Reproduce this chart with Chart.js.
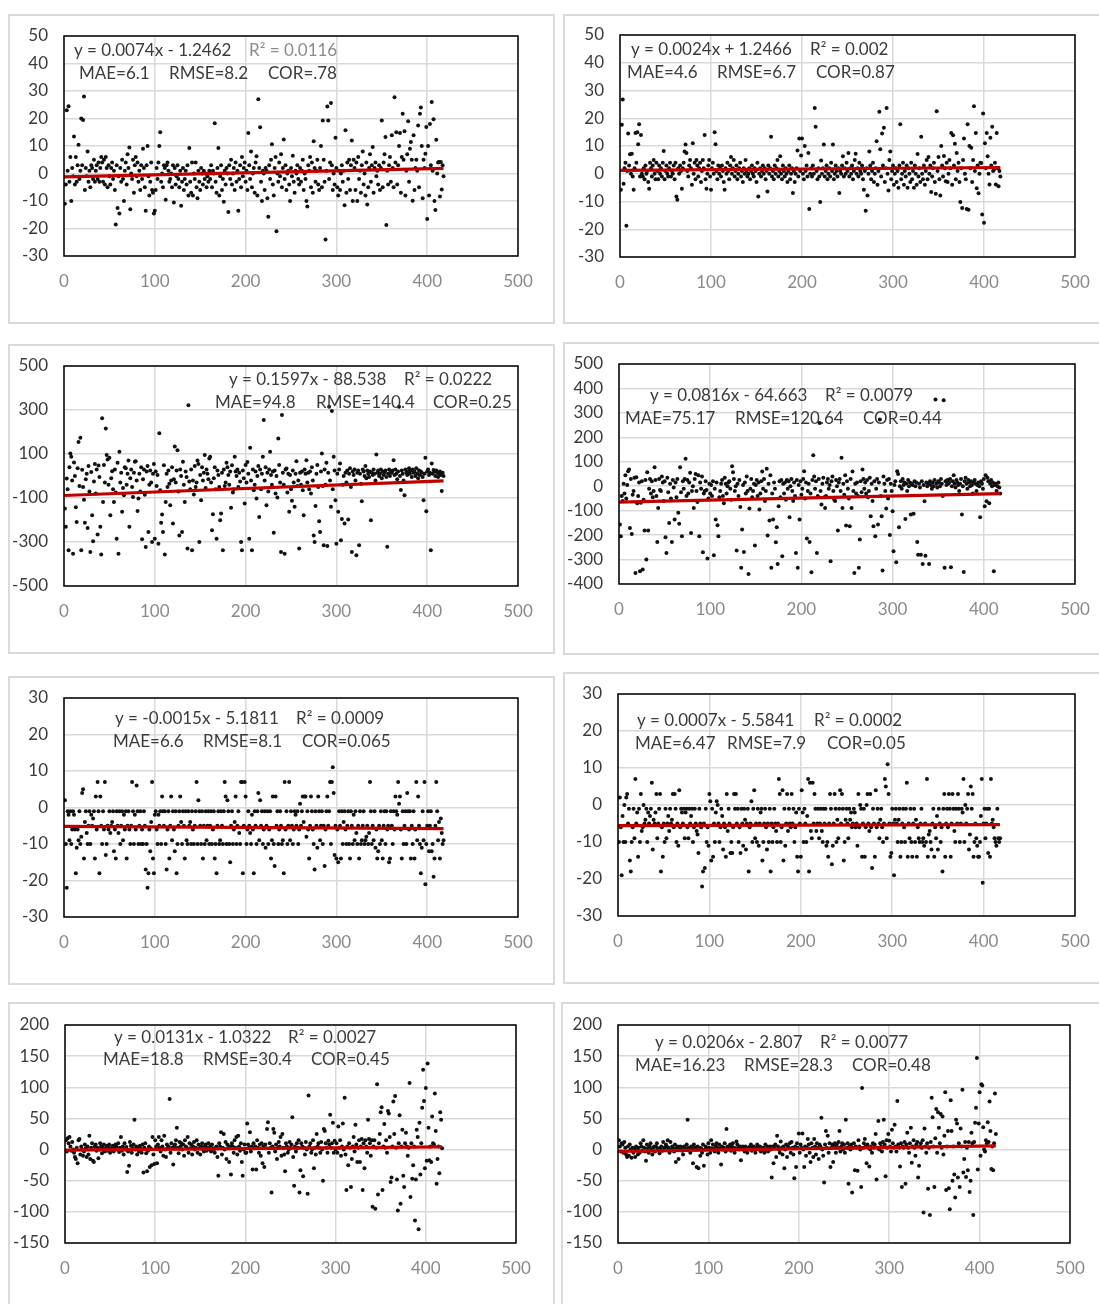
<!DOCTYPE html>
<html>
<head>
<meta charset="utf-8">
<script src="https://cdn.jsdelivr.net/npm/chart.js@4.4.1/dist/chart.umd.min.js"></script>
<style>
	body { margin: 0; background: #fff; width: 1099px; height: 1304px; overflow: hidden; position: relative; }
	.panel { position: absolute; border: 2px solid #dadada; box-sizing: border-box; }
	canvas { position: absolute; }
</style>
</head>
<body>
<script>
// residuals per day index, one array per panel
const p1Values = [
	-11, -4, 23, 1, 24.5, -3, 6, -10, 2, -1, 13.5, -4, 6, -3, 3, 10.5, -2, 1, 20, 3,
	19.5, 28, -6, 2, -1, 8, -3, 1, -5, 3, 2, -2, 5, -3, 1, 3, -2, 4, -3, 2,
	6, 4, -3, 5, -4, 6, 2, -5, 3, -1, -4, 2, 4, -2, 1, -6, -18.5, 3, -12.5, -1,
	-14.5, 2, -3, 5, -2, -10, 1, 4, -4, 7, 2, 9.5, -13, 0, -2, 5, -7, 3, 6, -1,
	4, -3, 1, -6, 3, -2, 9, 2, -5, -13.5, 3, 10, -1, -8, -3, 4, -6, -7, -14.5, -13.5,
	-6, 2, -2, 4, 10, 15, -3, 0, -5, 3, 2, -9.5, 3, 4, 1, -3, -2, 0, -5, 3,
	-10.5, 2, -4, -1, 3, -2, -5, 1, -11.7, -3, 2, -6, -2, 1, -4, 3, -8, 9.3, -3, -7,
	4, -8, 0, -2, 4, -5, -9, 1, -3, -6, 2, 0, -4, 1, -2, 0, -5, -1, -3, 1,
	-2, 3, -5, 1, 0, 18.3, -3, -7, 2, 9.3, -8, -1, 3, -6, -2, -10.3, 1, -4, 2, 0,
	-14, 3, -2, 5, -4, 0, 2, -6, 4, -3, 1, -13.5, -2, 3, -5, 6, -1, 2, 4, -3,
	1, -6, 14.7, 3, -2, 8, -5, 0, 2, -7, 4, 6.3, -8, 27, 2, 16.8, -3, -10, 1, 0,
	-6, 2, 1, -9, -15.7, 3, -2, 5, 10.6, -4, -8, 2, 6, -21, 0, -3, 4, -1, 7, -5,
	2, 12.4, -2, 3, -6, 0, 1, -4, -10, 2, -1, 6.5, -3, -7, 1, 0, 3, -2, -4, 2,
	-3, 1, 5, -6, 0, -2, -10, -12, 3, 1, 6, -5, 4, -7, 11.7, 2, -3, 1, 5, -4,
	-6, 2, 10, -5, 19.3, 5, -3, -24, 1, 24.4, 19.3, -2, 4, 25.6, 3, -6, 0, -4, 13, 2,
	-5, -8, 1, -6, 0, 3, -3, 1, -11.5, 15.7, -7, 4, -2, 5, -6, 3, 12, -10, 5, 2,
	-6, 4, -10, 6, -2, 1, -7, 3, 8, -4, 0, -8, 4, -11.3, -5, 2, 7, -3, 3, 9.6,
	-7, 2, 4, -1, 1, -4, 3, -6, 2, 19.3, -5, 4, 7, 13.3, -18.7, 1, -4, 3, 6, -3,
	13.9, 2, -5, 27.7, 4, 15, -4, 3, 10, 14.7, -7, 6, 21.7, 5, 15.4, -8, 1, 7, 19, -3,
	9, 11.5, 5, -9.9, 13.9, -6, 2, 5, 1, 17.5, -5, 21.7, 24, 10, -9, 5, 2, 7.2, 16.9, -16.5,
	10, -8, 18, 3, 26, 1, 19.7, -10, -13.3, 12.3, 0, 4, 4.2, -8.4, 4.2, -5.8, 3, -1
];
const p2Values = [
	-5.8, 17.7, 26.8, -3.6, 2, 4, -18.7, 1, 14.5, 3, 7, 0, 7.2, -1, -5.8, 2, 14.7, 4, 15, 10.6,
	17.8, -1, 14, 0, -1, 2, -2, 3, 0, 1, -3, -5.4, 4, 2, -1, 3, 5, 0, -2, 4,
	1, -2, 3, 0, 2, -1, 4, 8.2, -2, 1, 3, 0, -1, 2, 4, -1, 1, 0, 3, -2,
	4, -8.2, -9.4, 2, 0, 3, 1, -5.4, 2, 4, 8, 10.5, 7.5, 1, -1, 3, 5, 2, -4, 11,
	0, 4, -2, 5, 3, -1, 2, 4, -3, 1, 5, 2, 14, -2, -5.4, 0, 3, 5, -1, -5.8,
	2, 4, 0, 15, 10.6, 1, -2, 3, 0, 2, -1, 3, 1, -3, -5.8, 2, 0, 4, 1, -2,
	3, 6, 0, 2, 5, -1, 1, 3, -2, 0, 2, 4, -1, 1, -3, 2, 0, 5, 1, -1,
	0, 2, -2, 1, 3, 0, -1, 2, 1, -3, 4, -8.2, 0, 2, -1, 1, 3, 0, 2, -2,
	1, -6.4, 3, 0, 2, 13.3, -1, 1, -2, 3, 0, 2, 5, -1, 1, 6.3, 0, -2, 3, 1,
	-1, 2, 0, -3, 1, 3, -2, 0, 2, -6.9, 1, -3, 0, 2, 8.4, -1, 12.7, 1, 6.6, 12.7,
	0, -2, 10, 1, 3, -1, 7.5, -12.7, 0, 2, -1, 3, 0, 23.7, 16.9, 1, -2, 2, -1, -10.2,
	4.8, 0, 2, 10.5, -1, 1, 3, -2, 0, 2, -1, 4, 1, 10.5, -2, 0, 3, 1, -1, 2,
	-6.9, 1, 0, 3, 6.3, -1, 2, 0, 4, 1, 7.5, -1, 2, 0, 3, -2, 1, 5, 7.2, 0,
	2, -1, 4, 1, 0, 3, -2, -5.8, 1, -13.3, 2, -7.8, 0, 8, 3, -2, 1, 4, -3, 0,
	2, 11.7, -4, 1, 22.3, 8.8, -1, 14.5, 3, 16.6, -3, 2, 23.7, 0, -6, 5, 8, -2, 1, 3,
	-4, 0, 2, -3, 1, -5, 3, 17.8, -2, 0, 4, -4, 1, -1, 3, -5, 2, 0, -3, 4,
	-2, 1, -5, 3, 0, -4, 7.1, -1, 2, -3, 13.3, 0, -2, 3, -4, 1, 5, -2, 6, 0,
	3, -6.6, -1, 2, 4, -3, -7.2, 22.5, 1, 6, -2, -7.8, 10, 3, -1, 6.4, 2, -2.7, 4, -3,
	0, 5, 2, 14.7, -4, 13.9, 3, 10.8, -2, 7.5, 1, 4, -3, -10.2, 2, -12.3, 5, 12.7, 0, -2,
	-12.7, 17.8, -13, 10, 2, 9.4, -3, 5, 24.3, 1, 14.7, -5.2, 3, -7, 0, 4, 3.9, -14.7, 21.7, -17.7,
	11, 2, 14.7, 6.3, 0, -3.9, 13, 3, 16.9, 1, 1.4, 4, -3.9, 14.7, 2, -4.5, 1, -1
];
const p3Values = [
	-148, -231, -11, -60, -338, 40, 102, 87, -20, -353, 61, 0, -142, -209, 35, 155, -45, 174, -338, 28,
	-50, -108, -212, -15, 10, -236, 45, -70, -345, 18, -178, -297, -25, 55, -80, 30, -266, 48, -5, -231,
	-357, 262, -118, 50, -30, 216, 95, 75, -40, 83, -178, -10, 22, -60, -118, 30, -75, -285, 60, -353,
	110, -30, 15, -163, -55, -87, 40, 35, -40, 10, 70, -231, -10, 30, -50, -95, 15, 65, 67, -20,
	-159, -102, 10, -70, 40, -288, -15, 30, -85, -323, 20, 45, -254, -40, 25, -30, -300, 10, 55, -285,
	20, -45, 5, -308, 194, -65, -212, -175, -254, 49, -357, -118, 10, -50, 25, -35, -133, -20, 40, -216,
	-15, 134, -30, 25, 117, -70, -270, 30, 0, -254, 65, -40, -118, 20, -5, -330, 322, -25, -60, 30,
	-338, -20, -84, 45, -50, -30, 70, 55, -300, 5, -110, 40, -20, 15, 95, -55, 30, 10, -15, 80,
	87, -30, -247, -174, -10, 40, -60, -285, 25, 5, -50, -201, -171, 15, -338, 30, -45, -30, 60, 40,
	5, -40, 20, -144, 49, -75, -60, 87, 20, 0, 30, -50, 15, -25, -300, -338, 25, -10, -125, 50,
	-30, 64, 10, -285, 128, -20, -338, 30, -65, -40, 20, -102, 0, 45, -186, 30, -60, 10, 87, 254,
	-20, 40, -133, 15, -70, 30, 110, 5, -40, 20, -258, 25, -80, 0, -98, 171, 50, -30, -345, 277,
	15, -40, -353, 30, 34, -75, 10, -163, 5, -60, -113, 25, -30, -140, 10, 67, -45, -20, -330, 15,
	-40, 20, -65, -178, 30, 10, 72, -30, 15, -60, 20, -80, 40, -20, -270, -300, -136, 10, 50, -50,
	-206, -254, 20, 102, -45, -315, 30, -40, 60, -318, 15, 315, -20, -140, 295, -60, 87, 25, -110, -308,
	10, -163, 30, 57, -292, -196, -40, 0, -216, 15, -30, 25, -198, 10, 35, -50, -345, 20, 5, 30,
	-20, -360, 15, 25, -315, 10, -35, -115, 30, 20, 0, 45, -10, 25, 10, -5, 20, -201, 15, 5,
	30, 10, -20, 98, 15, 25, 0, 10, 30, -10, 20, 5, 15, 25, -5, -322, 10, 30, 0, 20,
	15, 25, 72, 5, 30, 10, -15, 20, 315, 0, -64, 25, 10, -20, -87, 30, 15, 5, 20, 35,
	10, 25, -5, 30, 15, 20, 0, 35, 10, -10, 25, 5, 20, 15, -5, -110, 10, 83, -160, 20,
	30, 5, 15, -338, 57, 10, 27, 20, 0, 25, 15, -5, 10, 20, 5, -68, 15, 0
];
const p4Values = [
	-157, -205, -40, -60, 10, -30, 45, -50, 5, 61, 68, -171, 30, -195, -35, -20, 35, -355, 37, -70,
	-40, 15, -348, -68, 20, -341, -55, -181, 25, -300, 57, -181, -10, 30, -30, 20, -45, -20, 78, 25,
	-40, -228, -89, 30, -15, -20, 40, 15, -60, 20, -209, -273, 35, -25, -150, 10, -50, -228, 25, -5,
	-136, 15, -45, 30, -109, -154, 78, -25, -205, 20, -10, 30, 112, -40, 25, -30, 15, 55, -191, -20,
	0, -89, 30, 50, -20, -65, 45, -205, 15, -10, 40, -270, -30, -20, 20, -15, -296, -50, 10, -30,
	5, -40, 20, -282, -10, -136, 15, -160, -205, -45, -20, 10, 25, -40, -70, 35, 10, -30, 0, 15,
	20, -10, -55, 82, 57, 30, -20, 0, -263, 10, -40, 25, -85, -334, -177, 5, -269, 15, -30, 40,
	-20, -359, -91, -10, 30, -45, -20, 10, -243, 5, 25, -40, 15, -95, -30, 20, 60, -10, 30, -60,
	-20, 71, -202, 10, -140, 45, -334, -30, -136, 15, -10, -229, -168, -318, -82, 20, -45, 25, -286, 10,
	-30, 15, -55, 25, -10, 20, -127, 0, 30, -20, -60, 15, -40, -273, 25, -334, 5, -136, 20, -35,
	-10, 30, 61, -50, 15, -214, -20, 10, -228, -30, -352, 25, 127, 40, -10, 20, -273, -40, 30, 259,
	-20, -75, 10, 35, -45, -89, -40, 15, 30, -10, 5, -307, 20, 40, -20, -55, -60, 25, 0, -181,
	15, 30, -20, 116, -89, 10, -35, 45, -161, 20, -10, -50, -164, 30, -89, 60, -20, -355, 10, -30,
	15, -40, -334, -218, 20, -25, 68, 30, -10, 15, -30, 25, -45, -20, 35, -123, 10, -60, -164, 20,
	-205, -10, 30, -157, 15, 273, -40, -123, -345, 40, 10, -20, -91, 25, -50, 30, -200, 10, -20, -102,
	-266, 5, 20, -311, 61, 50, -168, 0, 20, -10, 30, 5, 15, -134, 10, -20, 25, 0, 15, -116,
	10, 5, -113, 20, 0, 15, -228, -280, 10, -5, -280, 20, -318, 5, -61, -284, 15, 0, 10, -318,
	20, 5, -10, 15, 0, 25, 355, 10, -5, 20, 15, 0, 30, 10, -40, 352, -334, 20, 5, 25,
	10, 15, 30, -331, 0, 20, 45, 10, -5, 25, 15, 5, -20, 10, 30, -116, 0, -351, 20, 35,
	10, -10, 25, 15, 0, 20, 5, -30, 15, 25, 10, -20, 5, 15, 0, -127, 20, 10, -10, 30,
	-82, 45, -61, 35, 20, -70, 10, 25, 0, 15, -348, 5, 10, -20, 0, 15, -5, -30
];
const p5Values = [
	2, -10, -22, -1, -2, -9, -1, -10, -6, -1, -2, -6, -18, -11, -6, -9, -1, -10, -8, 4,
	5, -14, -4, -1, -7, -10, -5, -1, -10, -2, -5, -3, -1, -14, 3, -6, 7, -1, -18, 3,
	-5, -10, -1, -6, 7, -13, -10, -5, -6, -1, -7, -5, -4, -1, -12, -6, -14, -1, -5, -7,
	-1, -10, -5, -1, -9, -2, -6, -1, -14, -5, -1, -6, -10, -5, 7, -1, -10, -2, -6, 6,
	-1, -10, -5, -1, -10, -6, -10, -1, -5, -17, -10, -22, -18, -6, -12, -4, 7, -14, -18, -2,
	-1, -6, -10, -2, -5, -1, -10, 3, -1, -5, -1, -10, -17, -6, -1, -14, -5, 3, -9, -1,
	-6, -12, -1, -18, -10, -5, -1, 3, -4, -10, -1, -5, -14, -1, -9, -10, -1, -5, -4, -10,
	-1, -6, -10, -5, -1, 7, -10, 2, -1, -5, -10, -1, -14, -5, -10, -1, -9, -5, -1, -10,
	-5, -1, -10, -6, -1, -14, -10, -18, -5, -1, -10, -9, -1, -5, -10, -1, 7, 3, -10, 2,
	-1, -10, -15, -5, -1, -10, -6, -4, 3, -10, -5, -1, -7, -10, 7, 7, -18, -5, 7, 3,
	-10, -6, -1, -5, -7, -10, -2, -6, -18, -1, -5, -10, -1, 4, -9, 2, -5, -1, -10, -6,
	-1, -11, -5, -1, -10, -6, -1, -14, -9, 3, -10, -16, 3, -5, -1, -10, -6, -1, -5, -10,
	-9, -18, 7, -6, -1, -10, -5, 7, -9, -1, -5, -10, -6, -1, -2, -5, -1, -10, -6, 1,
	-5, -1, 3, -4, 3, 3, -8, -1, -6, -14, -5, 3, -1, -6, -10, -17, -1, -5, -11, 3,
	-1, -9, -5, -1, -10, -5, -16, -6, -1, 3, -5, -1, 7, -10, 7, 11, 4, -13, -5, -14,
	-6, -15, -1, -5, -14, -1, -10, -4, -1, -6, -10, -5, -1, -10, -14, -1, -5, -10, -2, -9,
	-1, -7, -10, -5, -14, -1, -10, -9, -5, -1, -10, -9, -8, -5, -10, -7, 7, -1, -10, -5,
	-9, -1, -11, -6, -14, -12, -5, -10, -1, -9, -14, -5, -1, -10, -1, -6, -5, -15, -14, -1,
	-5, -10, -1, -6, 3, -1, -2, 7, 1, 3, -6, -14, -1, -10, -5, -1, -10, 4, -1, -6,
	-1, -14, -5, -10, -1, -14, -6, 7, -9, 3, -5, -10, -18, -11, -1, -9, 7, -21, -10, -5,
	-1, -12, -5, -1, -12, -10, -19, -14, -5, 7, -1, -9, -4, -14, -3, -7, -10, -9
];
const p6Values = [
	-10, 2, -6, -19, -3, -10, 0, -10, 2, 3, -5, -1, -15, -18, -10, -6, -1, -9, 7, -5,
	-2, -14, -1, -10, 3, -7, -6, 0, -5, -4, -1, -10, -2, -5, -3, -1, 6, -12, -4, -5,
	-2, 3, -9, -5, -1, 3, -18, -6, -14, -5, -10, -1, -9, -5, -3, -7, -1, -5, -4, 3,
	-6, 3, -1, -10, -5, -11, 4, -6, -1, -2, -5, -1, -9, -2, -1, -6, -9, -1, -5, -3,
	-1, -10, -6, -1, -5, -7, -8, -13, -1, -5, -6, -22, -18, -5, -17, -1, -10, -6, -11, 3,
	1, -15, -1, -14, -5, -10, -2, 1, 0, -5, -10, -6, -1, -3, -12, -5, -6, -14, 3, -7,
	-1, -5, -13, -10, -13, -6, 3, -1, 3, -5, -1, -10, -6, -13, -1, -5, -11, -1, -4, -12,
	-5, -1, -18, -6, -5, 1, -10, -1, 4, -9, -5, -10, -1, -11, -5, -2, -1, -15, -10, -5,
	-1, -6, -12, -5, -10, -1, -18, -5, -10, -6, -1, -5, -7, -10, -5, 7, 3, -10, -6, 4,
	-15, -1, -11, -5, 3, -7, -1, -5, -6, 3, -5, -1, -10, -6, -2, -14, -18, -1, -5, -14,
	4, -2, -10, -1, -5, -10, -3, 7, -18, 6, -7, -9, 6, -5, 3, -1, -7, -5, -1, -9,
	-5, -1, -7, -10, -1, -5, -1, -11, -10, -14, -5, 3, -1, -16, -11, -5, 3, -1, -10, -4,
	-9, -1, 4, -5, 3, -1, -15, -10, -4, -1, -5, -9, -1, -4, -2, -6, -5, -1, -2, -6,
	-5, -11, 3, -6, 0, -1, -14, -5, -1, -14, -6, 0, 3, -5, -7, 3, -6, -17, -1, -5,
	-14, 4, -6, -1, -5, -9, -4, -1, -6, -10, -5, 7, 5, -9, 11, 3, -5, -14, -13, -1,
	-5, -19, -4, -1, -5, -10, -4, -1, -14, -10, -5, -1, -6, -10, -1, 6, -14, -5, -9, -1,
	-10, -14, -5, -1, -10, -4, -14, -6, -9, -10, -5, -1, -10, -9, -11, -5, -10, 7, -14, -8,
	-7, -10, -12, -5, -1, -14, -6, -9, -3, -12, -1, -5, -10, -6, -18, -1, 3, -14, -5, -1,
	-6, 3, -1, -14, -5, 3, -1, -7, -10, -1, -5, 3, -1, -10, -5, -1, -2, 7, -10, 0,
	-5, -1, 3, -12, -8, 5, -1, 3, -14, -10, -5, -9, -11, -14, -14, -10, -3, 7, -21, -5,
	-1, -9, -5, -1, -13, -1, -14, 7, -5, -4, -6, -9, -10, -11, -1, -9, -10, -9
];
const p7Values = [
	15, -3, 18, 10, 20, 5, -2, 12, 0, -5, -12, -15, 3, -22, 15, 17, -8, 5, 0, -10,
	-3, 8, 2, -12, 5, -8, 22, -15, 3, 10, -18, -20, 5, 8, -2, 3, -14, 0, 10, 5,
	-6, 3, 8, -3, 1, 6, -2, 4, 8, -5, 0, 3, 6, -3, 2, 8, 5, 0, 10, -4,
	3, 20, -2, 5, -8, 10, 0, 4, -36, -3, -26, 12, 6, -5, 2, 8, 48, 0, 5, -8,
	3, -3, 6, 2, -5, 8, -37, 3, 10, -6, -35, -2, 5, -28, 2, -25, 20, -8, -23, 15,
	5, -22, 8, 20, 3, -3, 15, 5, -10, 22, 0, -12, 8, 3, 5, 81, -5, 10, 3, -24,
	5, 8, 15, 35, 3, -6, 12, 5, 10, 0, 8, -10, 15, 5, 3, 20, -5, 10, 2, 8,
	-8, 5, 12, 0, 3, 15, -5, 8, 2, -8, 5, 10, 0, -3, 5, 8, -2, 3, 10, 0,
	5, -3, 8, 2, 0, -5, 3, 5, -12, -42, 10, 5, 28, -8, 3, 25, 0, 12, -15, 8,
	3, -20, 5, -40, 10, 5, -5, 15, 3, 20, -8, 22, 5, -2, 10, -20, -42, 0, 8, -5,
	-5, 42, 8, 3, 28, -3, 5, -32, 10, 2, 5, -32, 15, 3, -5, 8, -10, 10, -22, 5,
	-28, 8, 2, 33, 44, -5, 10, 3, -69, 5, 33, 27, -3, 8, -15, 3, 12, 5, 20, -10,
	25, 3, -8, -35, 10, 5, -5, 0, 12, 3, 8, 52, -12, -58, 5, -3, 10, 3, 15, -69,
	-33, 10, 5, -43, 3, -8, 12, 0, -71, 87, 5, 10, -5, 0, 15, -30, 3, -8, 25, 5,
	10, 3, -5, 12, 0, -50, 33, 30, 10, 3, -5, 14, 8, 56, 3, 10, 43, -5, 14, 0,
	10, -5, 37, 3, 15, -10, 5, 42, 0, 83, -8, -65, 5, -25, 10, 3, -60, -15, 5, 20,
	-3, 40, 8, -20, 3, 15, -20, 5, 17, -65, 10, -30, 15, 5, -5, 48, 17, 10, -10, 15,
	-92, 5, 15, -95, 3, 105, -72, 10, 25, 60, 68, -65, 5, 41, 3, 15, -5, 62, 58, 20,
	-52, -45, 5, 77, 25, 86, 3, -48, -98, 10, 55, -87, 5, 32, -42, -60, 10, 27, 5, -10,
	3, 107, -76, 10, -47, -25, 5, -114, -48, 32, 20, -128, 43, -40, 10, 67, 128, 78, -30, 99,
	-18, 138, 35, -17, 5, -20, 53, 10, 8, 90, 30, -55, -15, 5, -38, 60, 48, 2
];
const p8Values = [
	15, 5, -3, 10, 8, -5, 12, 3, -8, -12, 5, -10, 8, 0, -13, 3, -5, 2, -12, 5,
	0, -8, 3, -5, 10, 5, -2, 15, 3, -3, -18, 8, 2, -5, 5, 10, 0, -8, 3, 5,
	-3, 5, 10, 2, 0, -6, 3, 5, -2, 12, 3, 0, 8, 5, 15, 3, -5, 12, 0, 5,
	2, -3, 8, -20, 3, 5, -15, 0, 5, 3, -2, -8, 5, 3, 0, 8, 48, 3, 0, -5,
	5, 2, -22, 8, 3, 0, -28, 5, -30, 3, -10, 2, -5, 8, -26, 0, 5, 3, -8, 10,
	3, -5, 15, 2, 8, 0, -3, 5, 10, 3, -5, 8, 2, -24, 5, 0, 3, 10, -3, 33,
	5, 0, 3, 8, -2, 5, 10, 3, -5, 2, 13, 8, 3, 0, 5, -17, 3, 5, 0, -3,
	5, 2, -5, 3, 0, 5, 8, -2, 3, 5, 0, -5, 3, 8, 2, 0, 5, -3, 3, 0,
	3, -5, 8, 0, 5, -3, 3, 5, 0, -45, 5, -22, 3, 8, -12, 22, 5, 0, -5, 13,
	3, -8, 5, -30, 0, 8, -12, 5, 3, 10, -5, 12, 3, -8, -46, 5, -28, 10, 3, 26,
	-5, 8, 3, 26, 0, -28, 5, -10, 3, 17, 8, -5, -20, 10, 3, -12, 17, 5, -8, 10,
	3, -15, 8, 5, 51, 0, -10, -53, 8, 30, 3, 22, -5, 10, -28, 3, 8, -20, 5, 10,
	-5, 8, 3, 12, 30, -3, 5, 10, 0, 8, -5, 48, 3, 10, -55, 5, 0, 8, -69, 3,
	10, -33, 5, 3, -34, 15, 5, 0, -60, 99, 3, 10, 17, 5, -22, 8, 3, -27, 0, 5,
	-5, 10, 3, 8, 25, -48, 3, 46, 0, 10, 5, -3, 12, 48, 8, -43, 15, 3, 25, 14,
	5, -3, 32, 10, 3, 40, 5, -3, 78, 8, 3, -27, 10, -60, 5, 3, 12, -55, 8, 27,
	3, -5, 10, 35, -21, 5, 15, 3, -10, 8, 12, -45, -26, 5, 10, 3, 15, -101, 34, 5,
	-5, 10, -63, 3, -105, 12, 83, 52, 5, -60, 18, 65, -5, 60, 35, 10, 57, 3, 53, -8,
	22, 92, -65, 5, 30, -62, -96, 79, 30, -50, 5, -40, -77, 48, 42, -45, 10, -60, 34, 5,
	96, -37, -15, 12, -44, 3, -33, 12, -68, -50, 27, 10, -105, 12, 43, 67, 147, -32, 42, 92,
	-10, 105, 103, 36, 0, -3, 15, 10, 44, 12, 77, 30, -31, 5, -33, 10, 90, 25
];
const panelValues = [p1Values, p2Values, p3Values, p4Values, p5Values, p6Values, p7Values, p8Values];

const xMin = 0;
const xMax = 500;
const xStep = 100;
const yMins = [-30, -30, -500, -400, -30, -30, -150, -150];
const yMaxs = [50, 50, 500, 500, 30, 30, 200, 200];
const ySteps = [10, 10, 200, 100, 10, 10, 50, 50];

// printed trendline coefficients
const trendSlopes = [0.0074, 0.0024, 0.1597, 0.0816, -0.0015, 0.0007, 0.0131, 0.0206];
const trendIntercepts = [-1.2462, 1.2466, -88.538, -64.663, -5.1811, -5.5841, -1.0322, -2.807];

const equationLabels = ['y = 0.0074x - 1.2462', 'y = 0.0024x + 1.2466', 'y = 0.1597x - 88.538', 'y = 0.0816x - 64.663',
	'y = -0.0015x - 5.1811', 'y = 0.0007x - 5.5841', 'y = 0.0131x - 1.0322', 'y = 0.0206x - 2.807'];
const r2Labels = ['R² = 0.0116', 'R² = 0.002', 'R² = 0.0222', 'R² = 0.0079', 'R² = 0.0009', 'R² = 0.0002', 'R² = 0.0027', 'R² = 0.0077'];
const maeLabels = ['MAE=6.1', 'MAE=4.6', 'MAE=94.8', 'MAE=75.17', 'MAE=6.6', 'MAE=6.47', 'MAE=18.8', 'MAE=16.23'];
const rmseLabels = ['RMSE=8.2', 'RMSE=6.7', 'RMSE=140.4', 'RMSE=120.64', 'RMSE=8.1', 'RMSE=7.9', 'RMSE=30.4', 'RMSE=28.3'];
const corLabels = ['COR=.78', 'COR=0.87', 'COR=0.25', 'COR=0.44', 'COR=0.065', 'COR=0.05', 'COR=0.45', 'COR=0.48'];

// page layout: outer panel [left, top, width, height], plot box [left, top, right, bottom], text anchors
const layouts = [
	{ panel: [8, 14, 547, 310], box: [64, 36, 518, 256], eq: [74, 51], r2x: 249, l2y: 74, mae: 79, rmse: 169, cor: 268 },
	{ panel: [563, 14, 547, 310], box: [620, 35, 1075, 257], eq: [631, 50], r2x: 810, l2y: 73, mae: 627, rmse: 717, cor: 816 },
	{ panel: [8, 344, 547, 310], box: [64, 366, 518, 586], eq: [229, 380], r2x: 404, l2y: 403, mae: 215, rmse: 316, cor: 433 },
	{ panel: [563, 342, 547, 313], box: [619, 364, 1075, 584], eq: [650, 396], r2x: 825, l2y: 419, mae: 625, rmse: 735, cor: 863 },
	{ panel: [8, 676, 547, 309], box: [64, 698, 518, 917], eq: [115, 719], r2x: 296, l2y: 742, mae: 113, rmse: 203, cor: 302 },
	{ panel: [563, 672, 547, 312], box: [618, 694, 1075, 916], eq: [637, 721], r2x: 814, l2y: 744, mae: 635, rmse: 727, cor: 827 },
	{ panel: [8, 1002, 547, 310], box: [65, 1025, 516, 1243], eq: [114, 1038], r2x: 288, l2y: 1060, mae: 103, rmse: 203, cor: 311 },
	{ panel: [561, 1002, 547, 310], box: [618, 1025, 1070, 1243], eq: [655, 1043], r2x: 820, l2y: 1066, mae: 635, rmse: 744, cor: 852 }
];

const TEXT_COLOR = '#3b3b3b';
const FONT = { family: 'Lato', size: 17 };
// canvas starts above the panel so the top padding is not clamped by the scale labels
const CANVAS_LIFT = 20;

const frameAndText = {
	id: 'frameAndText',
	afterDatasetsDraw(chart, args, opts) {
		const { ctx, chartArea: a } = chart;
		ctx.save();
		ctx.strokeStyle = '#000';
		ctx.lineWidth = 1.5;
		ctx.strokeRect(a.left, a.top, a.right - a.left, a.bottom - a.top);
		ctx.font = FONT.size + 'px ' + FONT.family;
		ctx.textBaseline = 'middle';
		ctx.textAlign = 'left';
		opts.pieces.forEach((p) => {
			ctx.fillStyle = p.color;
			ctx.fillText(p.text, p.x, p.y);
		});
		ctx.restore();
	}
};

const build_chart = (i) => {
	const lay = layouts[i];
	const [pl, pt, pw, ph] = lay.panel;
	const [bl, bt, br, bb] = lay.box;
	const values = panelValues[i];

	const border = document.createElement('div');
	border.className = 'panel';
	Object.assign(border.style, { left: pl + 'px', top: pt + 'px', width: pw + 'px', height: ph + 'px' });
	document.body.appendChild(border);

	const ct = pt - CANVAS_LIFT;
	const ch = ph + CANVAS_LIFT;
	const canvas = document.createElement('canvas');
	canvas.width = pw;
	canvas.height = ch;
	Object.assign(canvas.style, { left: pl + 'px', top: ct + 'px' });
	document.body.appendChild(canvas);

	const xAxisHeight = 40;
	const pieces = [
		{ text: equationLabels[i], x: lay.eq[0] - pl, y: lay.eq[1] - ct, color: TEXT_COLOR },
		{ text: r2Labels[i], x: lay.r2x - pl, y: lay.eq[1] - ct, color: i === 0 ? '#8c8c8c' : TEXT_COLOR },
		{ text: maeLabels[i], x: lay.mae - pl, y: lay.l2y - ct, color: TEXT_COLOR },
		{ text: rmseLabels[i], x: lay.rmse - pl, y: lay.l2y - ct, color: TEXT_COLOR },
		{ text: corLabels[i], x: lay.cor - pl, y: lay.l2y - ct, color: TEXT_COLOR }
	];

	const n = values.length;
	const trendStart = 0;
	return new Chart(canvas, {
		type: 'scatter',
		data: {
			datasets: [{
				type: 'line',
				data: [
					{ x: trendStart, y: trendSlopes[i] * trendStart + trendIntercepts[i] },
					{ x: n, y: trendSlopes[i] * n + trendIntercepts[i] }
				],
				borderColor: '#c00000',
				borderWidth: 3.2,
				pointRadius: 0,
				fill: false,
				order: 0
			}, {
				data: values.map((v, k) => ({ x: k + 1, y: v })),
				backgroundColor: '#111',
				borderWidth: 0,
				pointRadius: 2,
				order: 1
			}]
		},
		options: {
			responsive: false,
			animation: false,
			events: [],
			layout: {
				padding: { left: 0, top: bt - ct, right: pl + pw - br, bottom: ch - (bb - ct) - xAxisHeight }
			},
			plugins: {
				legend: { display: false },
				tooltip: { enabled: false },
				frameAndText: { pieces: pieces }
			},
			scales: {
				x: {
					type: 'linear',
					min: xMin,
					max: xMax,
					ticks: { stepSize: xStep, color: '#8a8a8a', font: FONT, padding: 15 },
					grid: { color: '#d9d9d9', lineWidth: 1.5, drawTicks: false },
					border: { display: false },
					afterFit: (s) => { s.height = xAxisHeight; }
				},
				y: {
					min: yMins[i],
					max: yMaxs[i],
					ticks: { stepSize: ySteps[i], color: TEXT_COLOR, font: FONT, padding: 16 },
					grid: { color: '#d9d9d9', lineWidth: 1.5, drawTicks: false },
					border: { display: false },
					afterFit: (s) => { s.width = bl - pl; }
				}
			}
		},
		plugins: [frameAndText]
	});
};

layouts.forEach((lay, i) => build_chart(i));
</script>
</body>
</html>
